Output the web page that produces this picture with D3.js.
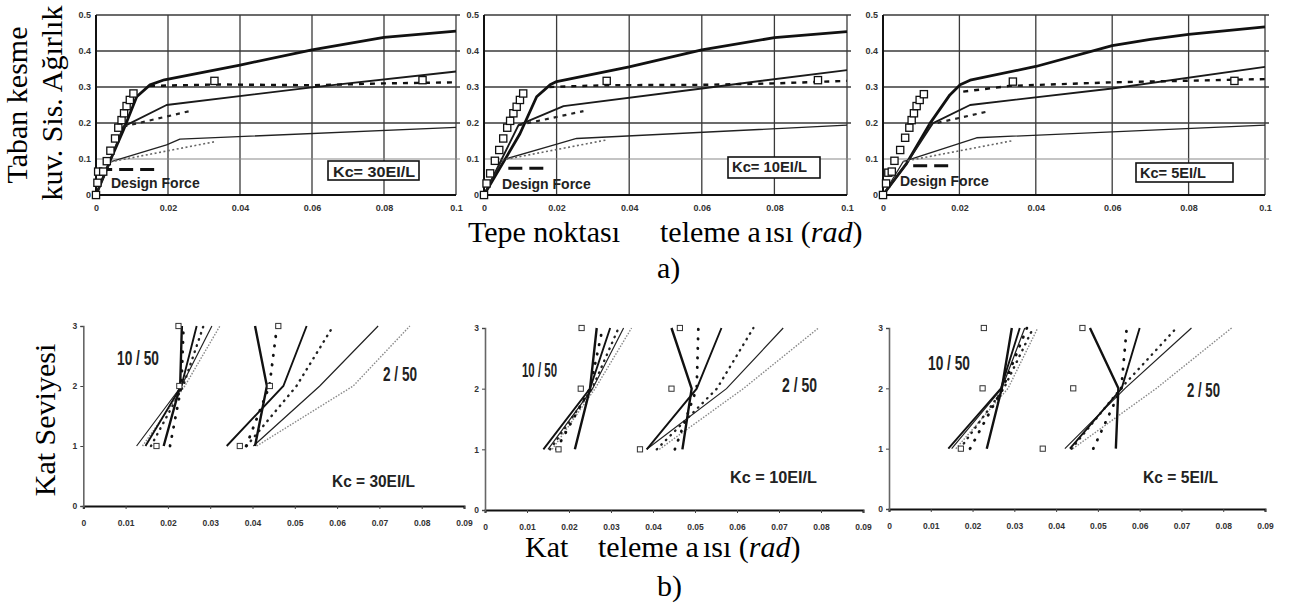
<!DOCTYPE html>
<html>
<head>
<meta charset="utf-8">
<script src="https://cdn.jsdelivr.net/npm/d3@7"></script>
<style>
  body { margin: 0; background: #fff; }
  svg { display: block; }
  .tick-lab text { font: bold 8.5px Arial, "Liberation Sans", sans-serif; fill: #333; }
  .tick-top text { font-size: 9px; }
</style>
</head>
<body>
<svg id="chart" width="1293" height="603"></svg>
<script>
// ---------- tick labels ----------
const topXTicks = [0, 0.02, 0.04, 0.06, 0.08, 0.1];
const topXTickLabels = ["0", "0.02", "0.04", "0.06", "0.08", "0.1"];
const topYTicks = [0, 0.1, 0.2, 0.3, 0.4, 0.5];
const topYTickLabels = ["0", "0.1", "0.2", "0.3", "0.4", "0.5"];
const botXTicks = [0, 0.01, 0.02, 0.03, 0.04, 0.05, 0.06, 0.07, 0.08, 0.09];
const botXTickLabels = ["0", "0.01", "0.02", "0.03", "0.04", "0.05", "0.06", "0.07", "0.08", "0.09"];
const botYTicks = [0, 1, 2, 3];
const botYTickLabels = ["0", "1", "2", "3"];
const storyLevels = [1, 2, 3];
const kcLabels = ["Kc= 30EI/L", "Kc= 10EI/L", "Kc= 5EI/L"];
const kcLabelsB = ["Kc = 30EI/L", "Kc = 10EI/L", "Kc = 5EI/L"];
const hazardLabels = ["10 / 50", "2 / 50"];

// ---------- pushover curves: [roof drift, base shear / weight] ----------
// Kc = 30EI/L
const thick30 = [[0,0],[0.004,0.097],[0.0076,0.18],[0.0113,0.273],[0.015,0.306],[0.019,0.32],[0.04,0.361],[0.06,0.403],[0.08,0.438],[0.1,0.455]];
const medium30 = [[0,0],[0.004,0.097],[0.0076,0.19],[0.0196,0.25],[0.06,0.299],[0.1,0.343]];
const thin30 = [[0,0],[0.004,0.092],[0.0196,0.139],[0.0233,0.155],[0.1,0.188]];
const dashTop30 = [[0.015,0.303],[0.033,0.307],[0.06,0.305],[0.08,0.31],[0.1,0.313]];
const dashMid30 = [[0.0076,0.19],[0.026,0.233]];
const dotLow30 = [[0.004,0.092],[0.033,0.148]];
const test30 = [[0,0],[0.0004,0.034],[0.0006,0.065],[0.002,0.065],[0.003,0.094],[0.004,0.123],[0.0053,0.157],[0.0062,0.187],[0.0071,0.208],[0.0078,0.227],[0.0085,0.247],[0.0094,0.264],[0.0104,0.282],[0.0329,0.317],[0.0907,0.319]];
const design30 = [[0.0006,0.071],[0.0178,0.071]];
// Kc = 10EI/L
const thick10 = [[0,0],[0.0062,0.106],[0.0099,0.17],[0.0145,0.273],[0.0182,0.306],[0.02,0.315],[0.04,0.356],[0.06,0.403],[0.08,0.437],[0.1,0.454]];
const medium10 = [[0,0],[0.0095,0.194],[0.0219,0.247],[0.06,0.296],[0.1,0.347]];
const thin10 = [[0,0],[0.0049,0.097],[0.0196,0.14],[0.0255,0.157],[0.1,0.194]];
const dashTop10 = [[0.018,0.30],[0.034,0.305],[0.06,0.306],[0.08,0.31],[0.1,0.317]];
const dashMid10 = [[0.0095,0.194],[0.0274,0.233]];
const dotLow10 = [[0.0049,0.097],[0.0338,0.153]];
const test10 = [[0,0],[0.0007,0.032],[0.0017,0.06],[0.003,0.095],[0.0042,0.125],[0.0053,0.157],[0.0064,0.187],[0.0072,0.206],[0.0081,0.227],[0.009,0.245],[0.0099,0.264],[0.0108,0.282],[0.0338,0.317],[0.092,0.319]];
const design10 = [[0.0067,0.074],[0.018,0.074]];
// Kc = 5EI/L
const thick5 = [[0,0],[0.0062,0.088],[0.0123,0.199],[0.0175,0.278],[0.0202,0.306],[0.0228,0.319],[0.04,0.357],[0.06,0.415],[0.07,0.432],[0.08,0.446],[0.1,0.467]];
const medium5 = [[0,0],[0.0062,0.088],[0.013,0.199],[0.0228,0.25],[0.06,0.296],[0.1,0.356]];
const thin5 = [[0,0],[0.0053,0.093],[0.0245,0.159],[0.1,0.194]];
const dashTop5 = [[0.021,0.287],[0.033,0.303],[0.06,0.313],[0.1,0.322]];
const dashMid5 = [[0.012,0.195],[0.027,0.231]];
const dotLow5 = [[0.0053,0.093],[0.034,0.151]];
const test5 = [[0,0],[0.0008,0.032],[0.0014,0.062],[0.0023,0.065],[0.003,0.095],[0.0045,0.125],[0.0058,0.159],[0.0069,0.187],[0.0075,0.208],[0.0081,0.227],[0.0088,0.247],[0.0096,0.264],[0.0107,0.28],[0.034,0.315],[0.092,0.317]];
const design5 = [[0.0079,0.081],[0.0183,0.081]];

// ---------- interstory drift per story (stories 1,2,3) ----------
const drift30_10in50 = { test:[0.0173,0.0227,0.0225], A:[0.0190,0.0229,0.0233], B:[0.0147,0.0232,0.0268], C:[0.0205,0.0232,0.0237], D:[0.0160,0.0236,0.0284], E:[0.0126,0.0232,0.0304], F:[0.0140,0.0240,0.0323] };
const drift30_2in50 = { test:[0.0370,0.0441,0.0461], A:[0.0406,0.0434,0.0406], B:[0.0339,0.0473,0.0528], C:[0.0385,0.0440,0.0458], D:[0.0386,0.0504,0.0591], E:[0.0402,0.0559,0.0697], F:[0.0410,0.0638,0.0772] };
const drift10_10in50 = { test:[0.0175,0.0228,0.0230], A:[0.0214,0.0250,0.0266], B:[0.0139,0.0250,0.0298], C:[0.0170,0.0250,0.0280], D:[0.0155,0.0255,0.0318], E:[0.0150,0.0256,0.0330], F:[0.0160,0.0262,0.0349] };
const drift10_2in50 = { test:[0.0369,0.0444,0.0464], A:[0.0470,0.0492,0.0444], B:[0.0385,0.0504,0.0563], C:[0.0452,0.0504,0.0508], D:[0.0409,0.0552,0.0639], E:[0.0385,0.0575,0.0710], F:[0.0415,0.0615,0.0794] };
const drift5_10in50 = { test:[0.0172,0.0224,0.0227], A:[0.0234,0.0270,0.0294], B:[0.0142,0.0268,0.0313], C:[0.0194,0.0272,0.0330], D:[0.0170,0.0275,0.0345], E:[0.0150,0.0270,0.0325], F:[0.0160,0.0285,0.0356] };
const drift5_2in50 = { test:[0.0368,0.0441,0.0463], A:[0.0543,0.0549,0.0481], B:[0.0433,0.0557,0.0600], C:[0.0489,0.0556,0.0569], D:[0.0437,0.0555,0.0688], E:[0.0421,0.0565,0.0724], F:[0.0440,0.0640,0.0820] };

// ---------- drawing ----------
const svg = d3.select("#chart");
const sans = "Arial, 'Liberation Sans', sans-serif";
const serif = "'Liberation Serif', 'Times New Roman', serif";

const topPanels = [
  { series:{thick:thick30, medium:medium30, thin:thin30, dashTop:dashTop30, dashMid:dashMid30, dotLow:dotLow30}, test:test30, design:design30,
    xr:[96,456], yr:[195,15], box:[328,161,91,19], kc:[333,176.5,82], df:[111,188] },
  { series:{thick:thick10, medium:medium10, thin:thin10, dashTop:dashTop10, dashMid:dashMid10, dotLow:dotLow10}, test:test10, design:design10,
    xr:[484,847], yr:[195,15], box:[728,157,92,21], kc:[732,172,75], df:[502,189] },
  { series:{thick:thick5, medium:medium5, thin:thin5, dashTop:dashTop5, dashMid:dashMid5, dotLow:dotLow5}, test:test5, design:design5,
    xr:[883,1265], yr:[195,15], box:[1136,163,97,19], kc:[1140,178,66], df:[900,186] }
];

const topStyles = {
  thick:   { w:2.8, c:"#111", dash:null },
  medium:  { w:1.9, c:"#1a1a1a", dash:null },
  thin:    { w:1.3, c:"#222", dash:null },
  dashTop: { w:2.4, c:"#111", dash:"5,6" },
  dashMid: { w:2.2, c:"#222", dash:"4,5" },
  dotLow:  { w:1.6, c:"#666", dash:"2,2.5" }
};

topPanels.forEach((p, i) => {
  const x = d3.scaleLinear().domain([0, 0.1]).range(p.xr);
  const y = d3.scaleLinear().domain([0, 0.5]).range(p.yr);
  const g = svg.append("g");

  // grid
  topXTicks.slice(1).forEach(v => {
    g.append("line").attr("x1", x(v)).attr("x2", x(v)).attr("y1", y(0)).attr("y2", y(0.5))
      .attr("stroke", "#3a3a3a").attr("stroke-width", 1.3);
  });
  topYTicks.slice(1).forEach(v => {
    g.append("line").attr("x1", x(0)).attr("x2", x(0.1) + 4).attr("y1", y(v)).attr("y2", y(v))
      .attr("stroke", v === 0.1 ? "#8a8a8a" : "#3a3a3a").attr("stroke-width", v === 0.1 ? 1.1 : 1.3);
  });
  // frame (left and bottom heavier)
  g.append("line").attr("x1", x(0)).attr("x2", x(0)).attr("y1", y(0)).attr("y2", y(0.5)).attr("stroke", "#111").attr("stroke-width", 2);
  g.append("line").attr("x1", x(0)).attr("x2", x(0.1)).attr("y1", y(0)).attr("y2", y(0)).attr("stroke", "#111").attr("stroke-width", 2);

  // axes (labels only)
  const ax = g.append("g").attr("class", "tick-lab tick-top").attr("transform", `translate(0,${y(0)})`)
    .call(d3.axisBottom(x).tickValues(topXTicks).tickFormat((d, k) => topXTickLabels[k]).tickSize(0).tickPadding(10));
  ax.select(".domain").remove();
  const ay = g.append("g").attr("class", "tick-lab tick-top").attr("transform", `translate(${x(0)},0)`)
    .call(d3.axisLeft(y).tickValues(topYTicks).tickFormat((d, k) => topYTickLabels[k]).tickSize(0).tickPadding(5));
  ay.select(".domain").remove();

  // curves
  const line = d3.line().x(d => x(d[0])).y(d => y(d[1]));
  Object.entries(p.series).forEach(([k, data]) => {
    const s = topStyles[k];
    g.append("path").datum(data).attr("d", line).attr("fill", "none")
      .attr("stroke", s.c).attr("stroke-width", s.w)
      .attr("stroke-dasharray", s.dash).attr("stroke-linejoin", "round");
  });

  // design force level
  g.append("path").datum(p.design).attr("d", line).attr("fill", "none")
    .attr("stroke", "#111").attr("stroke-width", 3).attr("stroke-dasharray", "14,7");

  // test points
  g.selectAll(".sq").data(p.test).enter().append("rect")
    .attr("x", d => x(d[0]) - 3.6).attr("y", d => y(d[1]) - 3.6)
    .attr("width", 7.2).attr("height", 7.2)
    .attr("fill", "#fff").attr("stroke", "#111").attr("stroke-width", 1.3);

  // labels
  g.append("text").attr("x", p.df[0]).attr("y", p.df[1])
    .attr("font-family", sans).attr("font-weight", "bold").attr("font-size", 14).attr("fill", "#222")
    .text("Design Force");
  g.append("rect").attr("x", p.box[0]).attr("y", p.box[1]).attr("width", p.box[2]).attr("height", p.box[3])
    .attr("fill", "#fff").attr("stroke", "#111").attr("stroke-width", 1.6);
  g.append("text").attr("x", p.kc[0]).attr("y", p.kc[1])
    .attr("font-family", sans).attr("font-weight", "bold").attr("font-size", 14).attr("fill", "#222")
    .attr("textLength", p.kc[2]).attr("lengthAdjust", "spacingAndGlyphs")
    .text(kcLabels[i]);
});

// ---------- story drift panels ----------
const botPanels = [
  { groups:[drift30_10in50, drift30_2in50], xr:[83.3, 464], yr:[506, 326],
    lab10:[117,365,42], lab2:[383,381,34], kc:[332,487,83] },
  { groups:[drift10_10in50, drift10_2in50], xr:[485, 863], yr:[510, 328],
    lab10:[522,377,35], lab2:[782,392,35], kc:[730,483,87] },
  { groups:[drift5_10in50, drift5_2in50], xr:[889, 1265], yr:[509, 328],
    lab10:[928,370,42], lab2:[1187,397,33], kc:[1143,483,75] }
];

const botStyles = {
  F: { w:1.4, c:"#888", dash:"1.5,1.5", cap:"butt" },
  E: { w:1.2, c:"#222", dash:null, cap:"butt" },
  D: { w:2.4, c:"#222", dash:"0.5,6", cap:"round" },
  C: { w:2.8, c:"#111", dash:"0.5,9", cap:"round" },
  B: { w:1.9, c:"#111", dash:null, cap:"butt" },
  A: { w:2.4, c:"#111", dash:null, cap:"butt" }
};

botPanels.forEach((p, i) => {
  const x = d3.scaleLinear().domain([0, 0.09]).range(p.xr);
  const y = d3.scaleLinear().domain([0, 3]).range(p.yr);
  const g = svg.append("g");

  const ax = g.append("g").attr("class", "tick-lab").attr("transform", `translate(0,${y(0)})`)
    .call(d3.axisBottom(x).tickValues(botXTicks).tickFormat((d, k) => botXTickLabels[k]).tickSize(3).tickPadding(11));
  ax.select(".domain").attr("stroke", "#111").attr("stroke-width", 2);
  ax.selectAll(".tick line").attr("stroke", "#444");
  const ay = g.append("g").attr("class", "tick-lab").attr("transform", `translate(${x(0)},0)`)
    .call(d3.axisLeft(y).tickValues(botYTicks).tickFormat((d, k) => botYTickLabels[k]).tickSize(3).tickPadding(3));
  ay.select(".domain").attr("stroke", "#666").attr("stroke-width", 1.6);
  ay.selectAll(".tick line").attr("stroke", "#444");

  const line = d3.line().x(d => x(d[0])).y(d => y(d[1]));
  p.groups.forEach(grp => {
    ["F", "E", "D", "C", "B", "A"].forEach(k => {
      const s = botStyles[k];
      const pts = storyLevels.map((lv, j) => [grp[k][j], lv]);
      g.append("path").datum(pts).attr("d", line).attr("fill", "none")
        .attr("stroke", s.c).attr("stroke-width", s.w)
        .attr("stroke-dasharray", s.dash).attr("stroke-linecap", s.cap);
    });
    const tpts = storyLevels.map((lv, j) => [grp.test[j], lv]);
    g.selectAll(null).data(tpts).enter().append("rect")
      .attr("x", d => x(d[0]) - 2.6).attr("y", d => y(d[1]) - 2.6)
      .attr("width", 5.2).attr("height", 5.2)
      .attr("fill", "#fff").attr("stroke", "#333").attr("stroke-width", 1);
  });

  const lab = (pos, txt, size) => g.append("text").attr("x", pos[0]).attr("y", pos[1])
    .attr("font-family", sans).attr("font-weight", "bold").attr("font-size", size).attr("fill", "#222")
    .attr("textLength", pos[2]).attr("lengthAdjust", "spacingAndGlyphs").text(txt);
  lab(p.lab10, hazardLabels[0], 20);
  lab(p.lab2, hazardLabels[1], 20);
  lab(p.kc, kcLabelsB[i], 16);
});

// ---------- axis titles ----------
const title = (x, y, rot, txt) => svg.append("text")
  .attr("transform", `translate(${x},${y}) rotate(${rot})`)
  .attr("text-anchor", "middle").attr("font-family", serif).attr("font-size", 30).attr("fill", "#000")
  .text(txt);
title(27, 105, -90, "Taban kesme");
title(62, 103, -90, "kuv. Sis. Ağırlık");
title(55, 420, -90, "Kat Seviyesi");

const titleRow = (y, parts) => {
  const t = svg.append("text").attr("y", y).attr("font-family", serif).attr("font-size", 30).attr("fill", "#000");
  parts.forEach(pt => {
    const s = t.append("tspan").text(pt.t);
    if (pt.x !== undefined) s.attr("x", pt.x);
    if (pt.i) s.attr("font-style", "italic");
  });
};
titleRow(242, [{t:"Tepe noktası", x:468}, {t:"teleme a", x:660}, {t:"ısı (", x:765}, {t:"rad", i:true}, {t:")"}]);
titleRow(557, [{t:"Kat", x:525}, {t:"teleme a", x:598}, {t:"ısı (", x:703}, {t:"rad", i:true}, {t:")"}]);
svg.append("text").attr("x", 657).attr("y", 278).attr("font-family", serif).attr("font-size", 30).text("a)");
svg.append("text").attr("x", 657).attr("y", 596).attr("font-family", serif).attr("font-size", 30).text("b)");
</script>
</body>
</html>
